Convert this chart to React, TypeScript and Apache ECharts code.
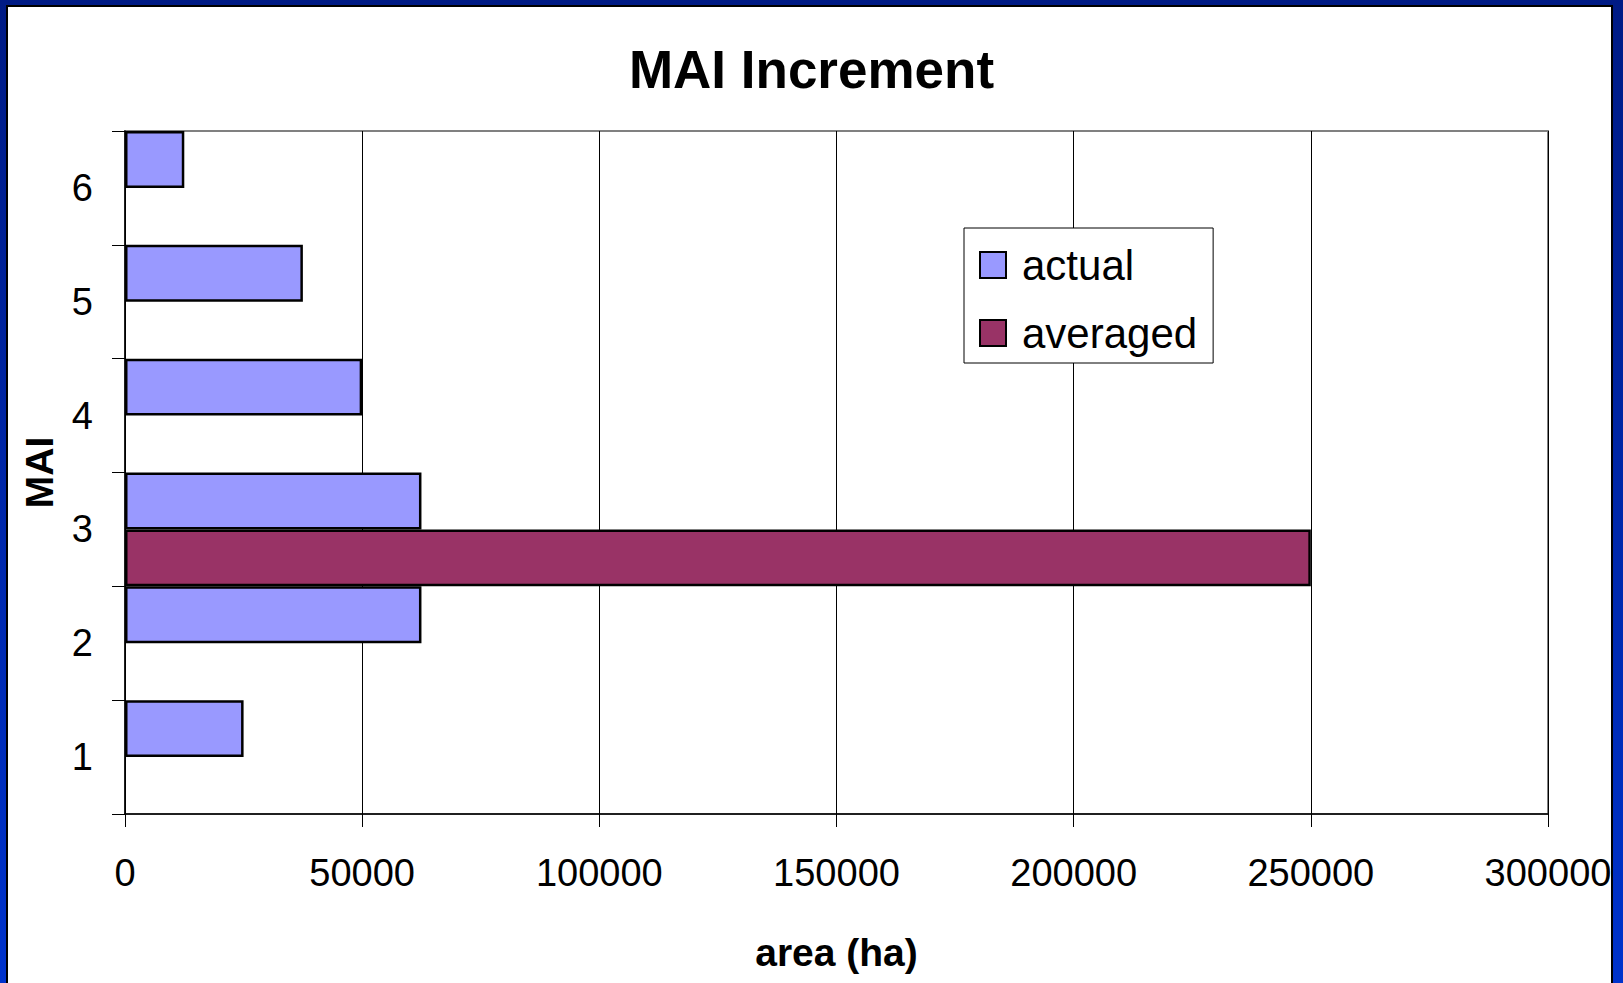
import React, { useEffect, useRef } from "react";
import * as echarts from "echarts";

const categories = ["1", "2", "3", "4", "5", "6"];
const actualValues = [25000, 62500, 62500, 50000, 37500, 12500];
const averagedValues = [null, null, 250000, null, null, null];
const xTicks = { min: 0, max: 300000, interval: 50000 };

const FONT = "'Liberation Sans', Arial, sans-serif";

export default function App() {
  const ref = useRef<HTMLDivElement>(null);

  useEffect(() => {
    if (!ref.current) return;
    const chart = echarts.init(ref.current, null, { renderer: "svg" });
    chart.setOption({
      animation: false,
      backgroundColor: "transparent",
      textStyle: { fontFamily: FONT, color: "#000" },
      title: {
        text: "MAI Increment",
        left: "center",
        top: 38,
        textStyle: { fontFamily: FONT, fontSize: 53, fontWeight: "bold", color: "#000" },
      },
      legend: {
        orient: "vertical",
        left: 964,
        top: 228,
        padding: [15, 16, 8, 15],
        itemGap: 24,
        itemWidth: 26,
        itemHeight: 26,
        backgroundColor: "#fff",
        borderColor: "#000",
        borderWidth: 1,
        icon: "rect",
        itemStyle: { borderColor: "#000", borderWidth: 2 },
        textStyle: {
          fontFamily: FONT,
          fontSize: 42,
          color: "#000",
          lineHeight: 44,
          padding: [0, 0, 0, 11],
        },
        data: ["actual", "averaged"],
      },
      grid: {
        left: 125,
        top: 131,
        right: 75,
        bottom: 169,
        show: true,
        borderColor: "#808080",
        borderWidth: 2,
        backgroundColor: "#fff",
      },
      xAxis: {
        type: "value",
        min: xTicks.min,
        max: xTicks.max,
        interval: xTicks.interval,
        name: "area (ha)",
        nameLocation: "middle",
        nameGap: 119,
        nameTextStyle: { fontFamily: FONT, fontSize: 39, fontWeight: "bold", color: "#000" },
        axisLine: { show: true, lineStyle: { color: "#000", width: 1.5 } },
        axisTick: { show: true, length: 13, lineStyle: { color: "#000", width: 1 } },
        axisLabel: {
          fontFamily: FONT,
          fontSize: 38,
          color: "#000",
          margin: 40,
          formatter: (v: number) => String(v),
        },
        splitLine: { show: true, lineStyle: { color: "#000", width: 1 } },
      },
      yAxis: {
        type: "category",
        data: categories,
        name: "MAI",
        nameLocation: "middle",
        nameGap: 66,
        nameTextStyle: { fontFamily: FONT, fontSize: 39, fontWeight: "bold", color: "#000" },
        axisLine: { show: true, lineStyle: { color: "#000", width: 1.5 } },
        axisTick: { show: true, length: 13, alignWithLabel: false, lineStyle: { color: "#000", width: 1 } },
        axisLabel: { fontFamily: FONT, fontSize: 38, color: "#000", margin: 32 },
        splitLine: { show: false },
      },
      series: [
        {
          name: "actual",
          type: "bar",
          data: actualValues,
          barGap: "0%",
          barCategoryGap: "0%",
          itemStyle: { color: "#9999ff", borderColor: "#000", borderWidth: 2.5 },
        },
        {
          name: "averaged",
          type: "bar",
          data: averagedValues,
          barGap: "0%",
          barCategoryGap: "0%",
          itemStyle: { color: "#993366", borderColor: "#000", borderWidth: 2.5 },
        },
      ],
    });
    return () => chart.dispose();
  }, []);

  return (
    <div
      style={{
        position: "fixed",
        left: 0,
        top: 0,
        width: 1623,
        height: 983,
        background: "linear-gradient(to bottom, #001b85 0%, #0033cc 100%)",
        overflow: "hidden",
      }}
    >
      <div
        style={{
          position: "absolute",
          left: 6,
          top: 5,
          width: 1603,
          height: 1000,
          border: "2px solid #000",
          background: "#fff",
        }}
      />
      <div ref={ref} style={{ position: "absolute", left: 0, top: 0, width: 1623, height: 983 }} />
    </div>
  );
}
